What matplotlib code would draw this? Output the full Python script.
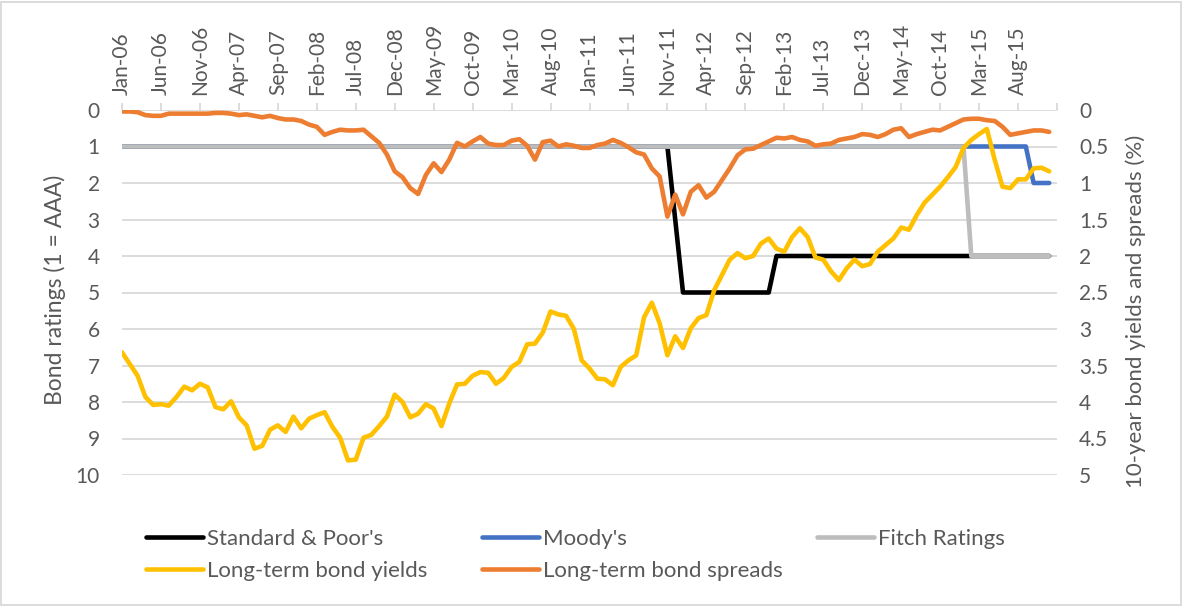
import numpy as np
import matplotlib
matplotlib.use('Agg')
import matplotlib.pyplot as plt
from matplotlib.patches import Rectangle

###DATA (monthly, Jan-06 .. Dec-15)###
tick_labels = ['Jan-06', 'Jun-06', 'Nov-06', 'Apr-07', 'Sep-07', 'Feb-08', 'Jul-08', 'Dec-08',
               'May-09', 'Oct-09', 'Mar-10', 'Aug-10', 'Jan-11', 'Jun-11', 'Nov-11', 'Apr-12',
               'Sep-12', 'Feb-13', 'Jul-13', 'Dec-13', 'May-14', 'Oct-14', 'Mar-15', 'Aug-15']

# ratings, 1 = AAA
sp_rating = [1] * 71 + [3] + [5] * 12 + [4] * 36
moodys_rating = [1] * 117 + [2] * 3
fitch_rating = [1] * 109 + [4] * 11

# 10-year bond yields (%)
yields = [3.32, 3.48, 3.64, 3.93, 4.04, 4.03, 4.05, 3.93, 3.79, 3.84,
          3.75, 3.80, 4.07, 4.10, 3.99, 4.21, 4.32, 4.64, 4.60, 4.38,
          4.32, 4.41, 4.20, 4.36, 4.23, 4.18, 4.14, 4.34, 4.49, 4.80,
          4.79, 4.49, 4.45, 4.33, 4.20, 3.90, 4.00, 4.21, 4.16, 4.03,
          4.09, 4.33, 4.02, 3.76, 3.75, 3.64, 3.59, 3.60, 3.75, 3.67,
          3.52, 3.45, 3.21, 3.20, 3.05, 2.76, 2.80, 2.82, 3.00, 3.43,
          3.54, 3.68, 3.69, 3.77, 3.52, 3.43, 3.36, 2.84, 2.64, 2.92,
          3.36, 3.10, 3.26, 2.99, 2.85, 2.81, 2.47, 2.26, 2.05, 1.96,
          2.03, 2.00, 1.83, 1.76, 1.90, 1.94, 1.74, 1.62, 1.74, 2.02,
          2.05, 2.21, 2.33, 2.17, 2.05, 2.14, 2.11, 1.94, 1.85, 1.76,
          1.61, 1.64, 1.44, 1.27, 1.16, 1.05, 0.92, 0.78, 0.52, 0.41,
          0.33, 0.26, 0.68, 1.05, 1.07, 0.95, 0.95, 0.80, 0.79, 0.84]

# 10-year bond spreads (%)
spreads = [0.02, 0.02, 0.03, 0.07, 0.08, 0.08, 0.05, 0.05, 0.05, 0.05,
           0.05, 0.05, 0.04, 0.04, 0.05, 0.07, 0.06, 0.08, 0.10, 0.08,
           0.11, 0.13, 0.13, 0.15, 0.20, 0.23, 0.34, 0.30, 0.27, 0.28,
           0.28, 0.27, 0.36, 0.45, 0.61, 0.84, 0.92, 1.07, 1.15, 0.89,
           0.73, 0.85, 0.68, 0.45, 0.50, 0.43, 0.37, 0.46, 0.48, 0.48,
           0.42, 0.40, 0.49, 0.68, 0.44, 0.42, 0.50, 0.47, 0.49, 0.52,
           0.52, 0.48, 0.46, 0.41, 0.45, 0.51, 0.58, 0.61, 0.80, 0.91,
           1.46, 1.16, 1.43, 1.12, 1.03, 1.20, 1.12, 0.96, 0.80, 0.62,
           0.54, 0.53, 0.48, 0.43, 0.38, 0.39, 0.37, 0.41, 0.43, 0.49,
           0.47, 0.46, 0.41, 0.39, 0.37, 0.33, 0.34, 0.37, 0.33, 0.27,
           0.25, 0.37, 0.33, 0.30, 0.27, 0.28, 0.23, 0.18, 0.13, 0.12,
           0.12, 0.14, 0.15, 0.23, 0.34, 0.32, 0.30, 0.28, 0.28, 0.30]

###STYLE###
plt.rcParams['font.family'] = ['Lato', 'DejaVu Sans']
plt.rcParams['font.size'] = 15
TXT = '#595959'
GRID = '#D9D9D9'
LW = 3.3

x = np.arange(len(yields))

fig = plt.figure(figsize=(11.83, 6.06), dpi=100)
fig.patches.append(Rectangle((0.001, 0.002), 0.997, 0.995, transform=fig.transFigure,
                             fill=False, edgecolor=GRID, lw=1.3))
ax = fig.add_axes([122 / 1183, 1 - 475 / 606, 935 / 1183, 365 / 606])
ax2 = ax.twinx()

kw = dict(lw=LW, solid_capstyle='round', solid_joinstyle='round')
l_sp, = ax.plot(x, sp_rating, color='black', **kw)
l_mo, = ax.plot(x, moodys_rating, color='#4472C4', **kw)
l_fi, = ax.plot(x, fitch_rating, color='#BDBDBD', **kw)
l_yi, = ax2.plot(x, yields, color='#FFC000', **kw)
l_spr, = ax2.plot(x, spreads, color='#ED7D31', **kw)

ax.set_xlim(0, 120)
ax.set_ylim(10, 0)
ax2.set_ylim(5, 0)

ax.set_yticks(range(11))
ax2.set_yticks(np.arange(0, 5.01, 0.5))
ax2.set_yticklabels(['0', '0.5', '1', '1.5', '2', '2.5', '3', '3.5', '4', '4.5', '5'])
ax.set_xticks(list(range(0, 121, 5)))
ax.set_xticklabels(tick_labels + [''])
ax.xaxis.tick_top()

ax.yaxis.grid(True, color=GRID, lw=1.3)
ax.set_axisbelow(True)
for a in (ax, ax2):
    for s in a.spines.values():
        s.set_visible(False)
ax2.patch.set_visible(False)

ax.tick_params(axis='x', direction='out', length=5, width=1.3, color=GRID,
               labelcolor=TXT, labelrotation=90, pad=6)
ax.tick_params(axis='y', length=0, pad=16, labelcolor=TXT)
ax2.tick_params(axis='y', length=0, pad=16, labelcolor=TXT)

fig.text(55 / 1183, 1 - 290 / 606, 'Bond ratings (1 = AAA)', rotation=90,
         ha='center', va='center', color=TXT, fontsize=16.5)
fig.text(1136 / 1183, 1 - 311 / 606, '10-year bond yields and spreads (%)', rotation=90,
         ha='center', va='center', color=TXT, fontsize=16)

###LEGEND: three equal-width columns###
columns = [([l_sp, l_yi], ["Standard & Poor's", 'Long-term bond yields'], 146),
           ([l_mo, l_spr], ["Moody's", 'Long-term bond spreads'], 482),
           ([l_fi], ['Fitch Ratings'], 817)]
for hs, ls, xpx in columns:
    leg = fig.legend(hs, ls, loc='upper left', bbox_to_anchor=(xpx / 1183, 1 - 529 / 606),
                     frameon=False, fontsize=16, handlelength=2.55, handletextpad=0.18,
                     labelspacing=0.55, borderpad=0, borderaxespad=0)
    for t in leg.get_texts():
        t.set_color(TXT)

fig.savefig('out.png', dpi=100)
